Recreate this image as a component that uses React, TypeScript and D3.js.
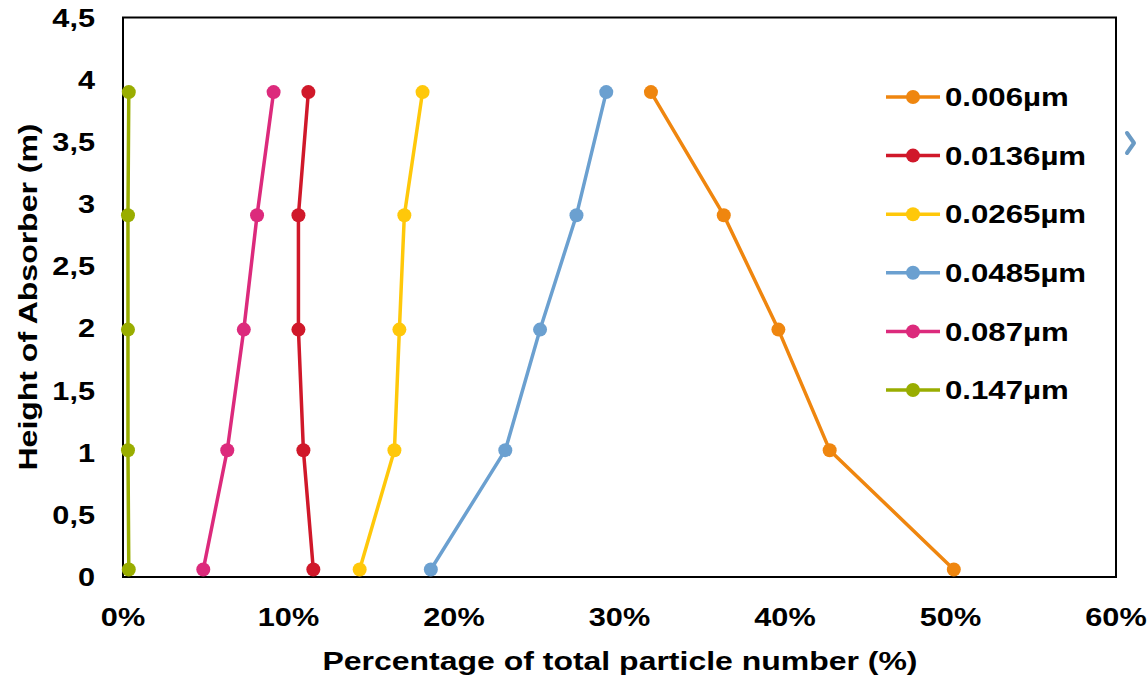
import React from "react";
import * as d3 from "d3";

const heights = [0.06, 1.02, 1.99, 2.91, 3.9];
const seriesNames = ["0.006µm", "0.0136µm", "0.0265µm", "0.0485µm", "0.087µm", "0.147µm"];
const seriesColors = ["#ef860f", "#d0182a", "#ffc80a", "#6ba0d0", "#dc2a7c", "#99ad00"];
const v006 = [50.2, 42.7, 39.6, 36.3, 31.9];
const v0136 = [11.5, 10.9, 10.6, 10.6, 11.2];
const v0265 = [14.3, 16.4, 16.7, 17.0, 18.1];
const v0485 = [18.6, 23.1, 25.2, 27.4, 29.2];
const v087 = [4.85, 6.3, 7.3, 8.1, 9.1];
const v147 = [0.35, 0.3, 0.3, 0.3, 0.35];
const seriesValues = [v006, v0136, v0265, v0485, v087, v147];
const xTicks = [0, 10, 20, 30, 40, 50, 60];
const yTicks = [0, 0.5, 1, 1.5, 2, 2.5, 3, 3.5, 4, 4.5];

const W = 1148, H = 679;
const L = 123, R = 1116, T = 17.5, B = 577;
const SX = 1.18;

export default function App() {
  const x = d3.scaleLinear().domain([0, 60]).range([L, R]);
  const y = d3.scaleLinear().domain([0, 4.5]).range([B, T]);
  const line = d3.line<[number, number]>().x(d => x(d[0])).y(d => y(d[1]));
  const font = "'Liberation Sans', Arial, sans-serif";
  return (
    <svg width={W} height={H} style={{ position: "absolute", left: 0, top: 0, background: "#fff" }} fontFamily={font} fontWeight="bold">
      <rect x={0} y={0} width={W} height={H} fill="#fff" />
      <rect x={L} y={T} width={R - L} height={B - T} fill="none" stroke="#000" strokeWidth={2} />
      {yTicks.map(t => (
        <g key={t} transform={`translate(95,${y(t)}) scale(${SX},1)`}>
          <text dy="0.35em" textAnchor="end" fontSize={26} fill="#000">
            {String(t).replace(".", ",")}
          </text>
        </g>
      ))}
      {xTicks.map(t => (
        <g key={t} transform={`translate(${x(t)},617) scale(${SX},1)`}>
          <text dy="0.35em" textAnchor="middle" fontSize={26} fill="#000">
            {t + "%"}
          </text>
        </g>
      ))}
      <text x={620} y={661} dy="0.35em" textAnchor="middle" fontSize={26} textLength={595} lengthAdjust="spacingAndGlyphs" fill="#000">
        Percentage of total particle number (%)
      </text>
      <text transform={`translate(28,297) rotate(-90)`} dy="0.35em" textAnchor="middle" fontSize={26} textLength={347} lengthAdjust="spacingAndGlyphs" fill="#000">
        Height of Absorber (m)
      </text>
      {seriesValues.map((vals, i) => {
        const pts: [number, number][] = vals.map((v, j) => [v, heights[j]]);
        return (
          <g key={i}>
            <path d={line(pts) || ""} fill="none" stroke={seriesColors[i]} strokeWidth={3.5} strokeLinejoin="round" />
            {pts.map((p, j) => (
              <circle key={j} cx={x(p[0])} cy={y(p[1])} r={7} fill={seriesColors[i]} />
            ))}
          </g>
        );
      })}
      {seriesNames.map((n, i) => {
        const ly = 97 + i * 58.6;
        return (
          <g key={n}>
            <line x1={886} x2={940} y1={ly} y2={ly} stroke={seriesColors[i]} strokeWidth={3.5} />
            <circle cx={913} cy={ly} r={7} fill={seriesColors[i]} />
            <g transform={`translate(945,${ly}) scale(${SX + 0.02},1)`}>
              <text dy="0.35em" fontSize={26} fill="#000">{n}</text>
            </g>
          </g>
        );
      })}
      <path d="M1127,133 L1134,143 L1127,153" fill="none" stroke="#6a9ac4" strokeWidth={4} strokeLinejoin="round" strokeLinecap="round" />
    </svg>
  );
}
